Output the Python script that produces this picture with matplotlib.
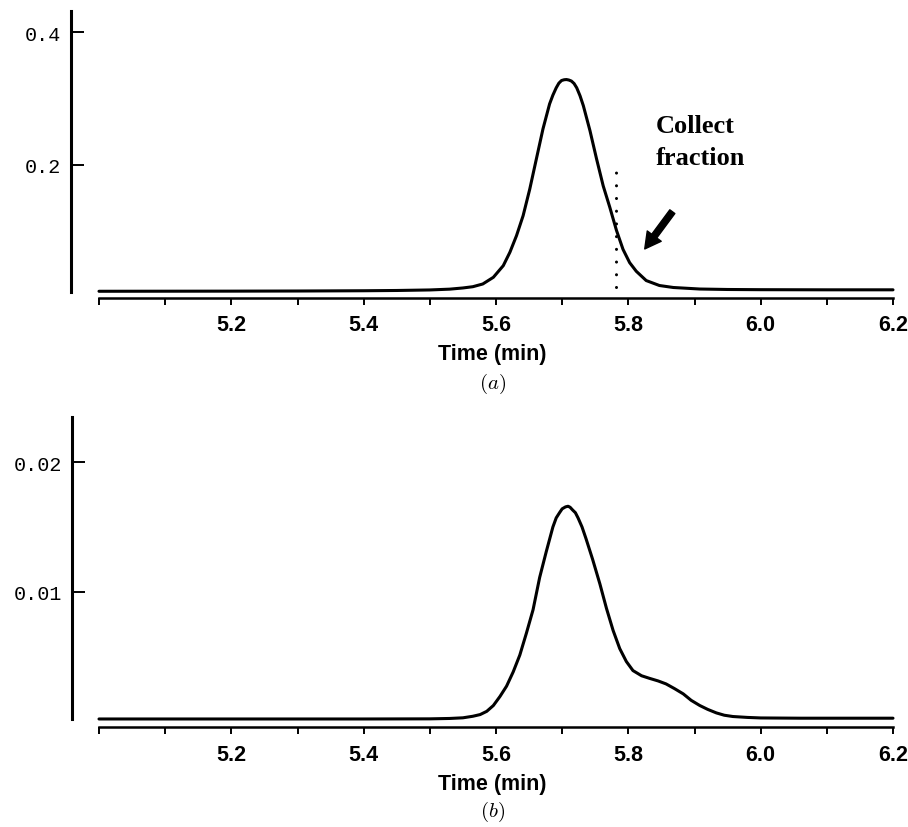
import matplotlib
matplotlib.use("Agg")
import matplotlib.pyplot as plt
from matplotlib.ticker import FixedLocator, FixedFormatter
from matplotlib.font_manager import FontProperties

# ---------------- data ----------------
time_a = [5.00, 5.10, 5.20, 5.30, 5.40, 5.45, 5.50, 5.53, 5.55, 5.565, 5.58, 5.596,
          5.611, 5.621, 5.631, 5.641, 5.651, 5.661, 5.671, 5.681, 5.686, 5.691,
          5.695, 5.699, 5.703, 5.7065, 5.710, 5.714, 5.718, 5.722, 5.727, 5.732,
          5.742, 5.752, 5.762, 5.772, 5.782, 5.792, 5.802, 5.812, 5.827, 5.847,
          5.868, 5.908, 5.95, 6.00, 6.10, 6.20]
signal_a = [0.0088, 0.0089, 0.0090, 0.0092, 0.0096, 0.0100, 0.0108, 0.0120, 0.0138,
            0.0157, 0.0198, 0.0299, 0.0475, 0.0677, 0.0928, 0.123, 0.163, 0.2086,
            0.254, 0.2917, 0.305, 0.316, 0.323, 0.327, 0.3282, 0.3285, 0.3278,
            0.3262, 0.3225, 0.316, 0.304, 0.289, 0.2514, 0.2086, 0.168, 0.1356,
            0.101, 0.072, 0.052, 0.039, 0.025, 0.0175, 0.0145, 0.0122, 0.0115,
            0.0112, 0.0110, 0.0110]

time_b = [5.00, 5.20, 5.40, 5.50, 5.53, 5.55, 5.565, 5.576, 5.586, 5.596, 5.606,
          5.616, 5.626, 5.636, 5.646, 5.656, 5.666, 5.676, 5.686, 5.691, 5.696,
          5.700, 5.705, 5.709, 5.712, 5.716, 5.720, 5.724, 5.730, 5.736, 5.746,
          5.757, 5.767, 5.777, 5.787, 5.797, 5.807, 5.82, 5.832, 5.845, 5.857,
          5.87, 5.883, 5.895, 5.908, 5.92, 5.933, 5.945, 5.958, 5.98, 6.00,
          6.06, 6.20]
signal_b = [0.00016, 0.00016, 0.00016, 0.00017, 0.00020, 0.00025, 0.00037, 0.00050,
            0.00075, 0.0012, 0.0019, 0.0027, 0.0038, 0.0051, 0.0068, 0.0086,
            0.0111, 0.0131, 0.0150, 0.0157, 0.0161, 0.0164, 0.01655, 0.0166,
            0.01652, 0.0163, 0.0161, 0.0157, 0.0150, 0.0141, 0.0125, 0.0106,
            0.0087, 0.0070, 0.0056, 0.0046, 0.0039, 0.0035, 0.0033, 0.0031,
            0.00287, 0.0025, 0.0021, 0.0016, 0.0012, 0.0009, 0.00063, 0.00045,
            0.00035, 0.00028, 0.00024, 0.00022, 0.00022]

x_ticks = [5.0, 5.1, 5.2, 5.3, 5.4, 5.5, 5.6, 5.7, 5.8, 5.9, 6.0, 6.1, 6.2]
x_ticklabels = ['', '', '5.2', '', '5.4', '', '5.6', '', '5.8', '', '6.0', '', '6.2']
y_ticks_a = [0.2, 0.4]
y_ticklabels_a = ['0.2', '0.4']
y_ticks_b = [0.01, 0.02]
y_ticklabels_b = ['0.01', '0.02']

collect_time = 5.782
collect_range = [0.0147, 0.191]
arrow_tail = (5.8665, 0.129)
arrow_head = (5.8248, 0.0727)
xlabel = "Time (min)"
annotation = ["Collect", "fraction"]

# ---------------- figure ----------------
plt.rcParams["mathtext.fontset"] = "cm"
W, H = 908, 828
fig = plt.figure(figsize=(W / 100, H / 100), dpi=100)
fig.patch.set_facecolor("white")

def px_axes(left, right, top, bottom):
    return fig.add_axes([left / W, 1 - bottom / H, (right - left) / W, (bottom - top) / H])

ax_a = px_axes(99, 893, 12, 298.5)
ax_b = px_axes(99, 893, 417.7, 728)

tick_font = dict(family=["Liberation Sans", "DejaVu Sans"], weight="bold", size=15.5)
mono_font = dict(family=["Liberation Mono", "DejaVu Sans Mono"], size=14.5)

def style(ax, ylim, spine_lo, yticks, yticklabels, spine_off):
    ax.set_xlim(5.0, 6.2)
    ax.set_ylim(*ylim)
    for s in ("top", "right"):
        ax.spines[s].set_visible(False)
    ax.spines["left"].set_position(("outward", spine_off))
    ax.spines["left"].set_bounds(spine_lo, ylim[1])
    ax.spines["left"].set_linewidth(2.2)
    ax.spines["bottom"].set_linewidth(1.8)
    ax.xaxis.set_major_locator(FixedLocator(x_ticks))
    ax.xaxis.set_major_formatter(FixedFormatter(x_ticklabels))
    ax.xaxis.set_minor_locator(FixedLocator([x_ticks[0]]))
    ax.tick_params(axis="x", which="major", direction="out", length=5, width=1.4, pad=7)
    ax.tick_params(axis="x", which="minor", direction="out", length=9.4, width=1.4)
    for lab in ax.get_xticklabels():
        lab.set_fontproperties(FontProperties(**tick_font))
    ax.yaxis.set_major_locator(FixedLocator(yticks))
    ax.yaxis.set_major_formatter(FixedFormatter(yticklabels))
    ax.tick_params(axis="y", which="major", direction="in", length=9.4, width=1.4, pad=7)
    for lab in ax.get_yticklabels():
        lab.set_fontproperties(FontProperties(**mono_font))
    ax.set_facecolor("none")

style(ax_a, (-0.0006, 0.432), 0.0077, y_ticks_a, y_ticklabels_a, 20.4)
style(ax_b, (-0.00046, 0.02352), 0.00016, y_ticks_b, y_ticklabels_b, 19.7)

ax_a.plot(time_a, signal_a, color="black", lw=2.2, solid_joinstyle="round",
          solid_capstyle="round", clip_on=False)
ax_b.plot(time_b, signal_b, color="black", lw=2.2, solid_joinstyle="round",
          solid_capstyle="round", clip_on=False)

# dotted collection line
ax_a.plot([collect_time, collect_time], collect_range, color="black", lw=2.2,
          linestyle=(0, (0.01, 4.15)), dash_capstyle="round")

# arrow
ax_a.annotate("", xy=arrow_head, xytext=arrow_tail,
              arrowprops=dict(arrowstyle="simple,head_length=1.15,head_width=1.25,tail_width=0.45",
                              color="black", mutation_scale=10, shrinkA=0, shrinkB=0))

serif_bold = dict(family=["Liberation Serif", "DejaVu Serif"], weight="bold", size=19)
ax_a.text(5.841, 0.2494, annotation[0], ha="left", va="baseline", **serif_bold)
ax_a.text(5.841, 0.201, annotation[1], ha="left", va="baseline", **serif_bold)

# axis titles and panel letters
fig.text(492 / W, 1 - 355 / H, xlabel, ha="center", va="center", **tick_font)
fig.text(493 / W, 1 - 384 / H, r"$(a)$", ha="center", va="center", size=15)
fig.text(492 / W, 1 - 784.5 / H, xlabel, ha="center", va="center", **tick_font)
fig.text(493 / W, 1 - 812 / H, r"$(b)$", ha="center", va="center", size=15)

fig.savefig("out.png", dpi=100, facecolor="white")
